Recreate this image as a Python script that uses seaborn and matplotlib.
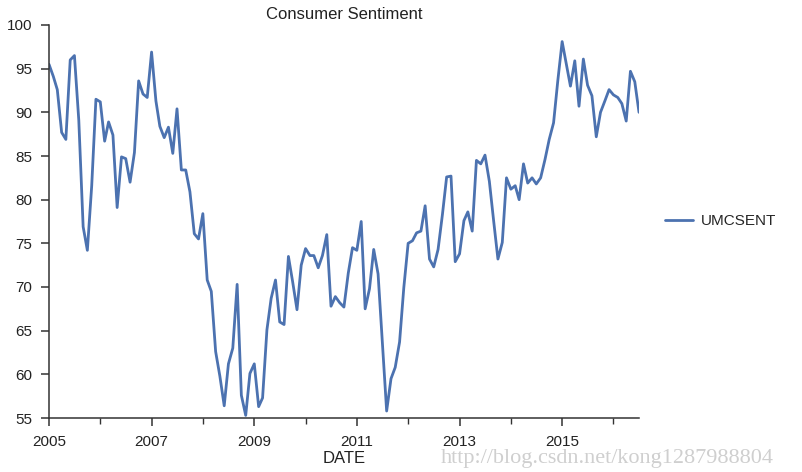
#!/usr/bin/env python3

# Consumer sentiment (UMCSENT), monthly, 2005-01 .. 2016-07.

import numpy as np
import pandas as pd

import seaborn as sns
import matplotlib.pyplot as plt
from matplotlib.ticker import FixedLocator

start_month = "2005-01-01"
umcsent = [
    95.5, 94.1, 92.6, 87.7, 86.9, 96.0, 96.5, 89.1, 76.9, 74.2, 81.6, 91.5,
    91.2, 86.7, 88.9, 87.4, 79.1, 84.9, 84.7, 82.0, 85.4, 93.6, 92.1, 91.7,
    96.9, 91.3, 88.4, 87.1, 88.3, 85.3, 90.4, 83.4, 83.4, 80.9, 76.1, 75.5,
    78.4, 70.8, 69.5, 62.6, 59.8, 56.4, 61.2, 63.0, 70.3, 57.6, 55.3, 60.1,
    61.2, 56.3, 57.3, 65.1, 68.7, 70.8, 66.0, 65.7, 73.5, 70.6, 67.4, 72.5,
    74.4, 73.6, 73.6, 72.2, 73.6, 76.0, 67.8, 68.9, 68.2, 67.7, 71.6, 74.5,
    74.2, 77.5, 67.5, 69.8, 74.3, 71.5, 63.7, 55.8, 59.5, 60.8, 63.7, 69.9,
    75.0, 75.3, 76.2, 76.4, 79.3, 73.2, 72.3, 74.3, 78.3, 82.6, 82.7, 72.9,
    73.8, 77.6, 78.6, 76.4, 84.5, 84.1, 85.1, 82.1, 77.5, 73.2, 75.1, 82.5,
    81.2, 81.6, 80.0, 84.1, 81.9, 82.5, 81.8, 82.5, 84.6, 86.9, 88.8, 93.6,
    98.1, 95.4, 93.0, 95.9, 90.7, 96.1, 93.1, 91.9, 87.2, 90.0, 91.3, 92.6,
    92.0, 91.7, 91.0, 89.0, 94.7, 93.5, 90.0,
]
major_years = [2005, 2007, 2009, 2011, 2013, 2015]
minor_years = [2006, 2008, 2010, 2012, 2014, 2016]
y_ticks = [55, 60, 65, 70, 75, 80, 85, 90, 95, 100]

df = pd.DataFrame({
    "DATE": pd.date_range(start_month, periods=len(umcsent), freq="MS"),
    "UMCSENT": umcsent,
})

sns.set_theme(style="ticks")
plt.rcParams["font.family"] = ["Liberation Sans", "DejaVu Sans"]

fig = plt.figure(figsize=(8.02, 4.72), dpi=100)
ax = fig.add_axes([49 / 802, 1 - 418 / 472, 590 / 802, 393 / 472])

sns.lineplot(data=df, x="DATE", y="UMCSENT", ax=ax,
             color="#4C72B0", linewidth=2, label="UMCSENT")

ax.set_xlim(df["DATE"].iloc[0], df["DATE"].iloc[-1])
ax.set_ylim(55, 100)
ax.set_yticks(y_ticks)
ax.set_yticklabels([str(v) for v in y_ticks], fontsize=11)

major_pos = pd.to_datetime([f"{y}-01-01" for y in major_years])
minor_pos = pd.to_datetime([f"{y}-01-01" for y in minor_years])
ax.set_xticks(major_pos)
ax.set_xticklabels([str(y) for y in major_years], fontsize=11)
ax.xaxis.set_minor_locator(FixedLocator(plt.matplotlib.dates.date2num(minor_pos)))
ax.tick_params(axis="both", which="major", length=6, width=1.1,
               color="#333333", labelcolor="#222222", pad=6)
ax.tick_params(axis="x", which="minor", length=4, width=1, color="#333333")

ax.set_xlabel("DATE", fontsize=12, color="#222222", labelpad=2)
ax.set_ylabel("")
ax.set_title("Consumer Sentiment", fontsize=12, color="#222222", pad=4)

for side in ("left", "bottom"):
    ax.spines[side].set_color("#333333")
    ax.spines[side].set_linewidth(1.1)
sns.despine(ax=ax)

ax.legend(loc="center left", bbox_to_anchor=(1.02, 0.5), frameon=False,
          fontsize=11, handlelength=1.85, handletextpad=0.5)

# Blog watermark, as in the source image.
fig.text(441 / 802, 1 - 458 / 472, "http://blog.csdn.net/kong1287988804",
         fontsize=16, color="#cfcfcf", va="center", ha="left",
         family=["Liberation Serif", "DejaVu Serif"])

fig.savefig("out.png", dpi=100)
